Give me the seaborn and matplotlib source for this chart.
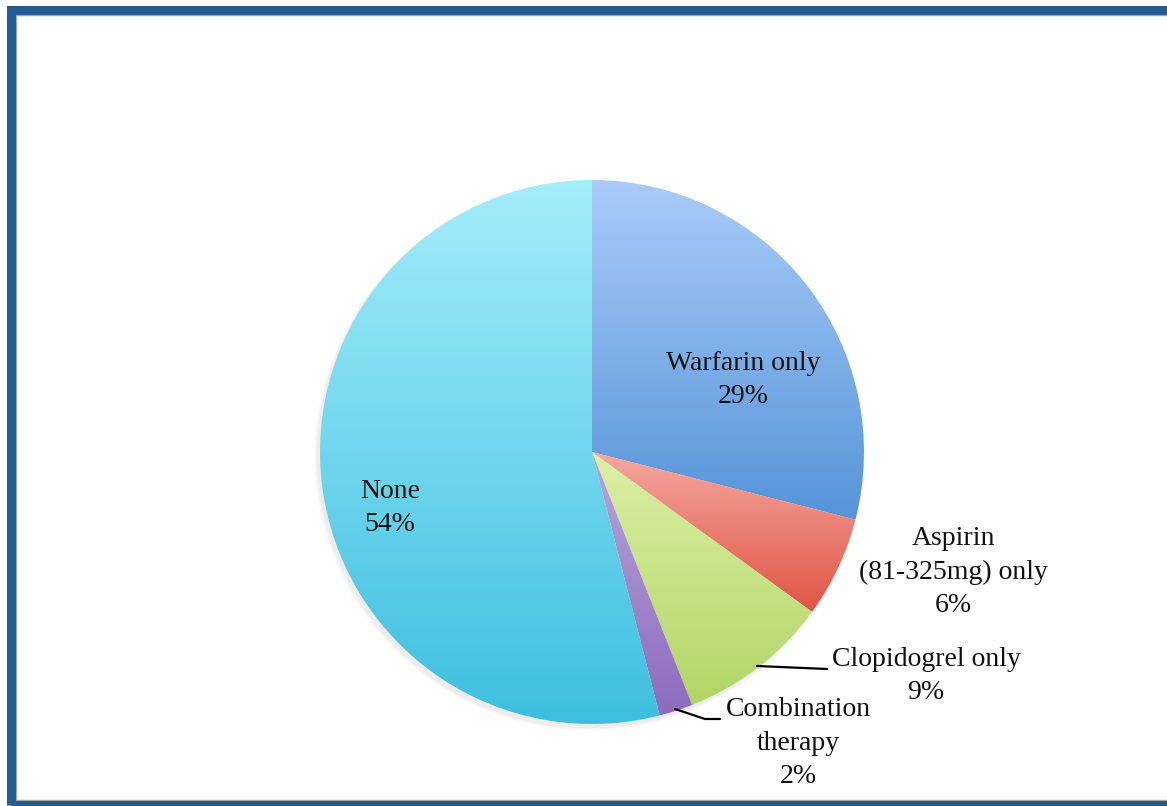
import numpy as np
import matplotlib
matplotlib.use("Agg")
import matplotlib.pyplot as plt
import seaborn as sns
from matplotlib.colors import LinearSegmentedColormap
from matplotlib.patches import Rectangle, Circle

categories = ["Warfarin only", "Aspirin\n(81-325mg) only", "Clopidogrel only",
              "Combination\ntherapy", "None"]
values = [29, 6, 9, 2, 54]
top_colors = ["#AACBF9", "#F5A8A0", "#DCF0A6", "#B9A6DC", "#A4EDFB"]
bottom_colors = ["#5594D8", "#DF5444", "#B2D566", "#8C6BBE", "#3EBFDF"]

sns.set_theme(style="white")
plt.rcParams["font.family"] = ["Liberation Serif", "DejaVu Serif"]

W, H = 1167, 806
fig = plt.figure(figsize=(W / 100, H / 100), dpi=100)
ax = fig.add_axes([0, 0, 1, 1])
ax.set_xlim(0, W)
ax.set_ylim(0, H)
ax.axis("off")

def Y(py):
    return H - py

cx, cy, r = 592, Y(452), 272

# soft shadow (bottom-left)
for i, a in enumerate([0.025, 0.025, 0.025]):
    ax.add_patch(Circle((cx - 3, cy - 4), r + i * 1.2, color="black", alpha=a,
                        lw=0, zorder=0))

wedges, _ = ax.pie(values, startangle=90, counterclock=False, center=(cx, cy),
                   radius=r, wedgeprops=dict(linewidth=0, edgecolor="none"))
ax.set_xlim(0, W)
ax.set_ylim(0, H)
ax.set_aspect("equal")

grad = np.linspace(0, 1, 256).reshape(-1, 1)
for w, tc, bc in zip(wedges, top_colors, bottom_colors):
    w.set_facecolor("none")
    ext = w.get_path().get_extents(w.get_patch_transform())
    cmap = LinearSegmentedColormap.from_list("g", [tc, bc])
    im = ax.imshow(grad, cmap=cmap, aspect="auto",
                   extent=[ext.x0, ext.x1, ext.y0, ext.y1], origin="upper",
                   zorder=1, interpolation="bilinear")
    im.set_clip_path(w)

fs = 20
labels = [f"{c}\n{v}%" for c, v in zip(categories, values)]
label_pos = [(743, 380), (953, 572), (926, 676), (798, 743), (390, 508)]
for lab, (px, py) in zip(labels, label_pos):
    ax.text(px, Y(py), lab, ha="center", va="center", multialignment="center",
            fontsize=fs, color="#111111", linespacing=1.45, zorder=5)

# leader lines
ax.plot([757, 827], [Y(666), Y(669)], color="black", lw=1.6, zorder=5)
ax.plot([675, 705, 720], [Y(709), Y(719), Y(719)], color="black", lw=1.6, zorder=5)

# frame
ax.add_patch(Rectangle((15, Y(801)), W + 20, 801 - 14, fill=False,
                       edgecolor="#A8A8A8", lw=2.5, zorder=6))
ax.add_patch(Rectangle((10.5, Y(804.5)), W + 20, 804.5 - 9.5, fill=False,
                       edgecolor="#275A91", lw=6.5, zorder=7))

fig.savefig("out.png", dpi=100)
